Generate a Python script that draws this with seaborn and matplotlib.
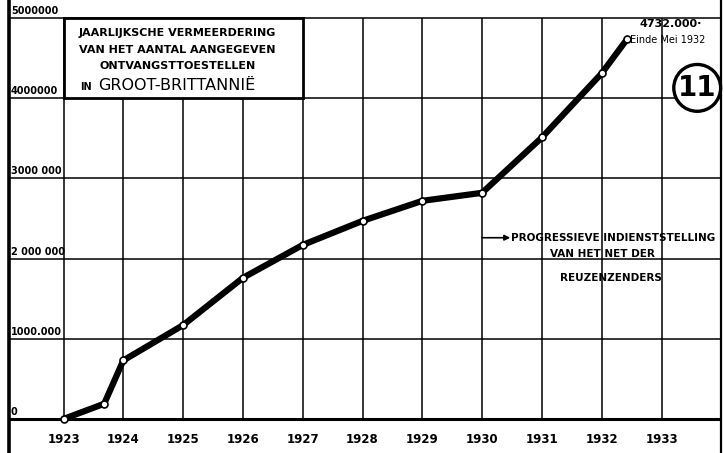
import matplotlib
matplotlib.use('Agg')
import matplotlib.pyplot as plt
from matplotlib.patches import Rectangle
import pandas as pd
import seaborn as sns

# aantal aangegeven ontvangsttoestellen
jaren = [1923.0, 1923.68, 1924, 1925, 1926, 1927, 1928, 1929, 1930, 1931, 1932, 1932.42]
toestellen = [0, 190000, 730000, 1170000, 1760000, 2170000, 2470000, 2720000,
              2820000, 3510000, 4310000, 4732000]

jaar_labels = list(range(1923, 1934))
y_waarden = [0, 1000000, 2000000, 3000000, 4000000, 5000000]
y_labels = ['0', '1000.000', '2 000 000', '3000 000', '4000000', '5000000']

titel = ['JAARLIJKSCHE VERMEERDERING', 'VAN HET AANTAL AANGEGEVEN', 'ONTVANGSTTOESTELLEN']
noot = ['PROGRESSIEVE INDIENSTSTELLING', 'VAN HET NET DER', 'REUZENZENDERS']

sns.set_style('white')
plt.rcParams['font.family'] = ['DejaVu Sans']
plt.rcParams['text.color'] = 'black'

fig = plt.figure(figsize=(7.24, 4.53), dpi=100)
ax = fig.add_axes([0, 0, 1, 1])
ax.set_xlim(1921.938, 1934.045)
ax.set_ylim(-424000, 5224000)

links, rechts = 1922.09, 1934.0

# raster
ax.hlines(y_waarden[1:], links, rechts, color='black', lw=1.1, zorder=1)
ax.hlines(0, links, rechts, color='black', lw=2.2, zorder=1)
ax.vlines(jaar_labels, 0, 5000000, color='black', lw=1.1, zorder=1)
ax.vlines([links], -424000, 5224000, color='black', lw=2.6, zorder=1)
ax.vlines([rechts], -424000, 5224000, color='black', lw=1.6, zorder=1)

for j in jaar_labels:
    ax.text(j, -250000, str(j), ha='center', va='center', fontsize=8.5,
            fontweight='bold', color='black')
for v, lab in zip(y_waarden, y_labels):
    ax.text(links + 0.03, v + 25000, lab, ha='left', va='bottom', fontsize=7,
            fontweight='bold', color='black')

# titelvak
ax.add_patch(Rectangle((1923, 4000000), 4, 1000000, facecolor='white',
                       edgecolor='black', lw=2.0, zorder=3))
for i, regel in enumerate(titel):
    ax.text(1924.9, 4810000 - i * 205000, regel, ha='center', va='center',
            fontsize=8, fontweight='bold', color='black', zorder=4)
ax.text(1923.27, 4100000, 'IN', ha='left', va='baseline', fontsize=7,
        fontweight='bold', color='black', zorder=4)
ax.text(1923.58, 4100000, 'GROOT-BRITTANNIË', ha='left', va='baseline',
        fontsize=11.5, fontweight='medium', color='black', zorder=4)

# curve
df = pd.DataFrame({'jaar': jaren, 'toestellen': toestellen})
sns.lineplot(data=df, x='jaar', y='toestellen', ax=ax, color='black', lw=4.5,
             marker='o', markersize=5, markerfacecolor='white',
             markeredgecolor='black', markeredgewidth=1.2, sort=False, zorder=5)

ax.annotate('4732.000·', xy=(jaren[-1], toestellen[-1]), xytext=(13, 15),
            textcoords='offset pixels', ha='left', va='center', fontsize=8,
            fontweight='bold', color='black')
ax.annotate('Einde Mei 1932', xy=(jaren[-1], toestellen[-1]), xytext=(3, -1),
            textcoords='offset pixels', ha='left', va='center', fontsize=7,
            color='black')

# reuzenzenders
ax.annotate('', xy=(1930.47, 2260000), xytext=(1930, 2260000),
            arrowprops=dict(arrowstyle='-|>', color='black', lw=1.2,
                            mutation_scale=8, shrinkA=0, shrinkB=0))
ax.text(1930.49, 2260000, noot[0], ha='left', va='center', fontsize=7.5,
        fontweight='bold', color='black')
ax.text(1932.02, 2025000, noot[1], ha='center', va='baseline', fontsize=7.5,
        fontweight='bold', color='black')
ax.text(1932.16, 1760000, noot[2], ha='center', va='center', fontsize=7.5,
        fontweight='bold', color='black')

ax.text(0.963, 0.806, '11', transform=ax.transAxes, ha='center', va='center',
        fontsize=20, fontweight='heavy', color='black', zorder=6,
        bbox=dict(boxstyle='circle,pad=0.15', facecolor='white',
                  edgecolor='black', lw=2.4))

ax.axis('off')
fig.savefig('out.png', dpi=100, facecolor='white')
